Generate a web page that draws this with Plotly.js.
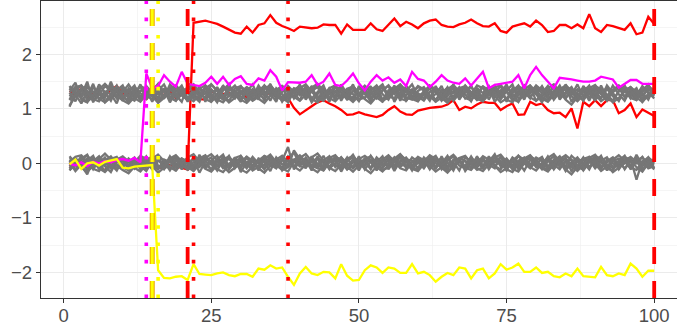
<!DOCTYPE html>
<html>
<head>
<meta charset="utf-8">
<script src="https://cdn.plot.ly/plotly-3.0.1.min.js"></script>
<style>html,body{margin:0;padding:0;background:#fff;}#chart{width:677px;height:328px;}</style>
</head>
<body>
<div id="chart"></div>
<script>
// time index 1..100
const timeIndex = Array.from({length: 100}, (_, i) => i + 1);

// coloured series
const redJump = [
 -0.08,-0.03,0.02,-0.04,0.01,-0.05,-0.13,0.03,0.07,0.04,
 0.02,0.05,0.03,0.00,-0.04,-0.09,-0.06,-0.03,-0.05,-0.08,
 -0.11,2.58,2.60,2.62,2.59,2.56,2.51,2.46,2.40,2.38,
 2.51,2.40,2.54,2.57,2.72,2.58,2.52,2.48,2.43,2.51,
 2.49,2.48,2.49,2.55,2.54,2.54,2.38,2.55,2.45,2.45,
 2.45,2.57,2.46,2.43,2.55,2.66,2.52,2.60,2.55,2.48,
 2.57,2.62,2.64,2.54,2.51,2.50,2.55,2.58,2.64,2.57,
 2.52,2.51,2.57,2.43,2.40,2.51,2.54,2.57,2.51,2.62,
 2.54,2.41,2.43,2.54,2.54,2.48,2.55,2.48,2.74,2.48,
 2.41,2.54,2.52,2.48,2.45,2.57,2.37,2.40,2.69,2.56];
const redDrift = [
 1.33,1.25,1.38,1.22,1.30,1.27,1.24,1.35,1.42,1.28,
 1.30,1.25,1.22,1.18,1.30,1.13,1.26,1.32,1.20,1.28,
 1.31,1.25,1.18,1.17,1.30,1.36,1.27,1.29,1.24,1.30,
 1.21,1.28,1.32,1.26,1.29,1.27,1.18,1.20,1.02,0.90,
 0.98,1.05,1.12,1.16,1.10,1.05,0.98,0.89,0.90,0.94,
 0.90,0.88,0.85,0.89,0.98,1.05,0.95,0.90,0.89,0.97,
 1.00,1.02,1.03,1.04,1.08,1.16,0.98,1.04,1.01,1.08,
 1.13,1.11,1.11,0.98,1.05,1.10,0.89,0.90,1.13,1.07,
 1.10,0.98,0.92,0.93,0.85,1.01,0.64,1.13,1.05,1.16,
 1.05,1.16,1.16,0.92,0.98,1.10,0.85,0.99,0.93,0.87];
const magentaSeries = [
 0.00,-0.04,0.02,-0.05,0.03,0.00,0.04,0.02,0.06,0.08,
 0.05,0.10,0.02,1.65,1.38,1.42,1.62,1.50,1.41,1.68,
 1.46,1.44,1.42,1.48,1.59,1.46,1.59,1.44,1.55,1.60,
 1.46,1.44,1.56,1.52,1.71,1.59,1.34,1.49,1.48,1.48,
 1.50,1.62,1.44,1.50,1.65,1.44,1.42,1.52,1.65,1.47,
 1.34,1.50,1.62,1.52,1.58,1.48,1.54,1.42,1.68,1.55,
 1.52,1.40,1.50,1.62,1.52,1.48,1.46,1.56,1.43,1.55,
 1.68,1.38,1.44,1.46,1.48,1.50,1.62,1.38,1.62,1.77,
 1.62,1.49,1.38,1.57,1.56,1.54,1.52,1.50,1.50,1.52,
 1.59,1.56,1.54,1.39,1.46,1.53,1.53,1.46,1.46,1.46];
const yellowSeries = [
 -0.02,0.07,-0.10,0.00,0.02,-0.04,0.03,0.05,0.08,-0.08,
 -0.09,-0.06,-0.05,-0.04,-0.03,-1.96,-2.10,-2.11,-2.08,-2.07,
 -2.14,-1.85,-2.03,-2.04,-2.05,-2.02,-2.00,-2.05,-2.07,-2.03,
 -2.03,-2.08,-1.93,-1.95,-1.87,-1.93,-1.91,-2.08,-2.23,-2.02,
 -1.90,-2.02,-2.05,-1.99,-2.00,-2.11,-1.85,-2.06,-2.15,-2.14,
 -1.96,-1.87,-1.91,-2.01,-1.91,-1.93,-2.01,-2.01,-1.85,-2.02,
 -1.99,-2.05,-2.17,-2.08,-2.01,-2.05,-1.91,-1.93,-2.11,-1.96,
 -1.93,-2.11,-2.02,-1.85,-1.95,-1.91,-1.84,-1.99,-1.99,-1.91,
 -2.01,-1.99,-2.07,-2.09,-2.02,-2.07,-1.93,-2.07,-2.08,-2.09,
 -1.90,-2.05,-2.07,-2.02,-2.05,-1.84,-1.93,-2.08,-1.97,-1.97];

// grey series, lower band
const greyLow1 = [
 0.05,-0.12,0.09,0.16,-0.06,0.02,-0.15,0.08,0.12,-0.04,
 0.06,-0.10,0.00,0.11,-0.08,0.15,0.03,-0.13,0.05,0.09,
 -0.02,0.08,-0.17,0.04,0.11,-0.06,0.02,0.14,-0.09,0.05,
 -0.04,0.12,0.00,-0.11,0.07,0.03,-0.08,0.09,0.20,-0.02,
 0.06,-0.13,0.10,0.01,-0.06,0.08,-0.15,0.04,0.16,-0.03,
 0.09,-0.08,0.02,0.13,-0.11,0.05,0.00,-0.06,0.11,0.03,
 -0.09,0.07,0.14,-0.04,0.02,-0.13,0.09,0.05,-0.02,0.11,
 -0.08,0.03,0.17,-0.06,0.07,-0.11,0.02,0.09,-0.04,0.05,
 0.12,-0.09,0.03,-0.02,0.11,-0.15,0.05,0.07,-0.06,0.02,
 0.14,-0.08,0.04,0.09,-0.11,0.05,0.00,0.12,-0.04,0.07];
const greyLow2 = [
 -0.09,0.05,-0.04,-0.20,0.07,-0.02,0.11,-0.07,0.02,0.09,
 -0.13,0.04,0.07,-0.05,0.14,-0.04,-0.11,0.05,0.00,-0.07,
 0.09,-0.14,0.04,0.12,-0.02,0.07,-0.09,-0.04,0.11,-0.16,
 0.02,0.05,-0.07,0.14,-0.04,0.09,-0.13,0.00,0.07,-0.05,
 0.11,-0.04,-0.09,0.05,0.13,-0.07,0.04,-0.11,0.02,0.09,
 -0.05,0.14,-0.02,-0.09,0.07,-0.14,0.05,0.11,-0.04,0.00,
 0.07,-0.11,0.04,0.09,-0.05,0.02,-0.13,0.11,0.04,-0.07,
 0.05,-0.02,-0.09,0.13,-0.04,0.07,-0.11,0.04,0.14,-0.05,
 0.00,0.09,-0.07,0.05,-0.14,0.02,0.11,-0.04,0.07,-0.09,
 0.04,-0.13,0.09,-0.02,0.05,-0.07,0.16,-0.04,0.02,-0.11];
const greyLow3 = [
 0.13,0.00,-0.07,0.05,0.14,-0.11,0.04,-0.02,-0.13,0.07,
 0.02,0.11,-0.05,-0.14,0.04,0.09,-0.07,0.13,-0.04,0.00,
 0.05,-0.11,0.16,-0.04,0.02,-0.13,0.07,-0.05,0.09,0.04,
 -0.09,0.07,0.02,-0.04,0.13,-0.07,0.05,0.30,-0.11,0.04,
 -0.02,0.09,-0.05,0.14,-0.09,0.00,0.11,-0.04,0.05,-0.13,
 0.07,0.02,-0.11,0.04,0.09,-0.05,0.13,-0.09,0.02,0.07,
 -0.04,0.11,-0.07,0.00,0.14,-0.05,0.04,-0.11,0.09,0.02,
 -0.09,0.13,-0.04,0.05,-0.07,0.11,0.02,-0.13,0.07,-0.02,
 0.09,-0.05,0.04,0.13,-0.09,0.02,-0.04,0.11,-0.07,0.05,
 -0.11,0.07,0.00,-0.05,0.13,-0.04,0.09,-0.14,0.05,-0.02];
const greyLow4 = [
 -0.05,0.09,0.02,-0.11,0.04,0.13,-0.04,0.05,-0.09,0.00,
 0.07,-0.05,0.11,0.02,-0.11,0.05,-0.02,0.09,-0.07,0.04,
 -0.11,0.02,0.09,-0.07,0.05,0.14,-0.05,0.00,0.04,-0.09,
 0.11,-0.04,0.07,-0.09,0.02,0.05,-0.11,0.13,0.04,-0.05,
 -0.07,0.05,0.00,-0.11,0.09,0.04,-0.05,0.11,-0.09,0.02,
 0.05,-0.09,0.11,0.00,-0.04,0.09,-0.07,0.04,-0.13,0.07,
 0.02,-0.05,0.09,-0.11,0.05,0.13,-0.04,-0.09,0.07,0.00,
 0.11,-0.07,0.04,-0.02,0.09,-0.05,0.14,0.00,-0.09,0.04,
 -0.05,0.07,-0.11,0.04,0.09,-0.04,0.05,-0.13,0.02,0.11,
 -0.07,0.04,0.11,-0.05,0.00,0.09,-0.30,0.05,-0.09,-0.05];
const greyLow5 = [
 0.07,-0.04,0.14,-0.09,0.00,0.09,-0.05,-0.16,0.05,0.11,
 -0.04,0.07,-0.11,0.05,0.13,-0.09,0.02,0.07,-0.14,0.09,
 0.04,-0.07,0.11,-0.02,-0.11,0.07,0.16,-0.07,0.02,-0.04,
 0.13,-0.09,0.05,0.02,-0.14,0.11,-0.02,0.07,-0.07,0.14,
 -0.04,0.02,0.09,-0.13,0.05,-0.02,0.11,0.00,-0.07,0.13,
 -0.11,0.04,0.07,-0.04,0.14,-0.09,0.02,0.09,-0.05,0.11,
 -0.02,0.05,-0.11,0.13,-0.07,0.04,0.09,-0.14,0.00,0.05,
 0.09,-0.11,0.05,0.11,-0.02,-0.09,0.05,0.11,-0.05,0.02,
 -0.11,0.04,0.13,-0.07,0.02,0.07,-0.13,0.09,0.04,-0.07,
 0.11,-0.02,-0.09,0.05,0.14,-0.11,0.04,-0.05,0.09,0.02];
const greyLow6 = [
 -0.13,0.02,0.05,-0.04,0.11,-0.07,0.04,0.13,-0.02,-0.09,
 0.09,0.00,-0.05,0.13,-0.04,-0.11,0.07,0.02,0.11,-0.05,
 -0.07,0.11,0.00,-0.09,0.05,-0.04,0.13,-0.11,0.02,0.09,
 -0.02,-0.11,0.09,0.05,-0.05,0.00,0.11,-0.07,0.24,0.07,
 -0.09,0.13,-0.04,0.05,-0.11,0.09,0.02,-0.05,0.07,-0.02,
 0.04,-0.11,0.09,-0.05,0.00,0.11,-0.04,0.07,0.05,-0.09,
 0.11,0.00,-0.07,0.05,-0.11,0.07,0.02,0.04,-0.09,0.13,
 -0.04,0.09,-0.05,-0.11,0.05,0.02,-0.07,0.09,-0.02,0.11,
 0.04,-0.11,0.07,0.00,-0.05,0.14,0.04,-0.09,0.11,-0.04,
 0.05,0.11,-0.07,0.02,-0.09,0.04,0.07,-0.02,0.11,-0.09];
const greyLow7 = [
 0.02,-0.14,-0.02,0.09,-0.11,0.05,0.09,-0.09,0.04,0.11,
 -0.07,0.04,0.09,-0.11,0.02,0.13,-0.09,-0.04,0.07,-0.11,
 0.11,-0.04,-0.07,0.07,-0.13,0.04,-0.02,0.09,-0.05,0.13,
 -0.05,0.04,-0.13,0.09,-0.02,-0.09,0.07,-0.04,0.05,0.11,
 0.04,-0.07,0.13,-0.09,0.07,-0.04,-0.09,0.05,0.11,-0.07,
 0.02,0.07,-0.13,0.09,-0.07,0.02,0.11,-0.04,-0.09,0.05,
 -0.05,0.13,0.00,-0.07,0.11,-0.09,0.05,-0.05,0.13,-0.04,
 0.07,-0.05,0.11,0.02,-0.13,0.07,-0.04,0.05,0.09,-0.07,
 -0.04,0.13,-0.02,-0.11,0.05,-0.07,0.09,0.02,-0.11,0.09,
 -0.05,0.02,0.07,-0.11,0.04,-0.09,0.05,0.11,-0.07,0.04];
const greyLow8 = [
 0.10,0.04,-0.08,-0.15,-0.05,0.08,0.18,0.06,-0.04,-0.12,
 -0.18,-0.06,0.05,0.12,0.02,-0.10,-0.03,0.09,0.15,0.04,
 -0.07,-0.14,-0.02,0.10,0.17,0.06,-0.05,-0.16,-0.08,0.03,
 0.12,0.05,-0.09,-0.17,-0.04,0.07,0.14,0.03,-0.06,-0.13,
 -0.02,0.11,0.18,0.05,-0.08,-0.14,-0.03,0.09,0.13,0.01,
 -0.10,-0.18,-0.06,0.07,0.15,0.04,-0.09,-0.13,0.02,0.12,
 0.06,-0.05,-0.15,-0.07,0.08,0.16,0.03,-0.08,-0.12,0.01,
 0.13,0.07,-0.04,-0.16,-0.09,0.05,0.14,0.06,-0.07,-0.13,
 0.00,0.10,0.17,0.04,-0.11,-0.20,-0.05,0.08,0.12,-0.02,
 -0.14,-0.06,0.07,0.15,0.05,-0.08,-0.12,0.03,0.11,0.02];
const greyLow9 = [
 -0.12,-0.03,0.08,0.14,0.02,-0.09,-0.16,-0.05,0.07,0.13,
 0.04,-0.08,-0.15,-0.02,0.09,0.16,0.05,-0.07,-0.13,0.00,
 0.11,0.17,0.03,-0.10,-0.15,-0.04,0.08,0.12,0.01,-0.11,
 -0.17,-0.06,0.05,0.14,0.08,-0.03,-0.12,-0.07,0.06,0.15,
 0.03,-0.09,-0.16,-0.04,0.10,0.15,0.02,-0.11,-0.06,0.08,
 0.14,0.05,-0.07,-0.15,-0.03,0.09,0.17,0.04,-0.10,-0.14,
 -0.01,0.12,0.06,-0.08,-0.17,-0.05,0.07,0.13,0.02,-0.09,
 -0.14,-0.02,0.11,0.16,0.03,-0.10,-0.15,0.00,0.12,0.07,
 -0.06,-0.13,-0.03,0.08,0.15,0.06,-0.05,-0.12,0.04,0.13,
 0.09,-0.03,-0.16,-0.08,0.05,0.12,0.03,-0.09,-0.04,0.06];
const greyLow10 = [
 0.03,0.12,0.15,0.02,-0.10,-0.14,0.01,0.11,0.06,-0.07,
 -0.13,0.02,0.14,0.08,-0.05,-0.17,-0.08,0.06,0.12,-0.03,
 -0.12,-0.05,0.09,0.15,0.00,-0.11,-0.16,-0.02,0.10,0.14,
 0.01,-0.13,-0.06,0.08,0.16,0.02,-0.09,-0.15,0.03,0.10,
 0.17,0.04,-0.08,-0.13,0.02,0.12,0.07,-0.06,-0.15,-0.04,
 0.08,0.13,0.00,-0.12,-0.08,0.05,0.16,0.06,-0.07,-0.11,
 0.04,0.15,0.08,-0.04,-0.14,-0.06,0.10,0.14,-0.01,-0.12,
 -0.07,0.06,0.13,0.02,-0.11,-0.16,0.00,0.09,0.15,0.03,
 -0.09,-0.15,-0.02,0.11,0.07,-0.05,-0.14,-0.03,0.10,0.16,
 0.02,-0.10,-0.13,0.04,0.12,0.06,-0.07,-0.15,0.00,0.08];

// grey series, upper band
const greyHigh1 = [
 1.30,1.14,1.38,1.23,1.46,1.17,1.32,1.27,1.10,1.40,
 1.25,1.34,1.15,1.42,1.29,1.21,1.36,1.12,1.31,1.43,
 1.19,1.33,1.25,1.38,1.14,1.29,1.42,1.23,1.34,1.17,
 1.31,1.45,1.21,1.33,1.15,1.38,1.27,1.12,1.36,1.25,
 1.40,1.19,1.31,1.43,1.17,1.33,1.23,1.36,1.27,1.14,
 1.34,1.25,1.42,1.17,1.29,1.38,1.21,1.33,1.45,1.23,
 1.15,1.31,1.36,1.25,1.40,1.19,1.33,1.27,1.14,1.38,
 1.29,1.42,1.21,1.34,1.17,1.31,1.43,1.23,1.36,1.27,
 1.12,1.33,1.25,1.40,1.19,1.34,1.29,1.15,1.38,1.23,
 1.33,1.21,1.43,1.27,1.15,1.36,1.25,1.42,1.31,1.19];
const greyHigh2 = [
 1.17,1.40,1.25,1.50,1.12,1.34,1.21,1.43,1.31,1.15,
 1.38,1.23,1.45,1.17,1.33,1.46,1.19,1.36,1.25,1.13,
 1.43,1.29,1.15,1.40,1.27,1.12,1.34,1.46,1.21,1.33,
 1.13,1.27,1.38,1.23,1.46,1.17,1.31,1.40,1.19,1.34,
 1.25,1.42,1.15,1.29,1.36,1.21,1.45,1.27,1.17,1.38,
 1.31,1.13,1.36,1.45,1.23,1.19,1.38,1.15,1.29,1.42,
 1.36,1.21,1.27,1.42,1.15,1.33,1.23,1.43,1.31,1.17,
 1.25,1.38,1.13,1.29,1.45,1.21,1.34,1.17,1.42,1.29,
 1.40,1.17,1.34,1.25,1.43,1.13,1.31,1.38,1.21,1.33,
 1.19,1.43,1.29,1.15,1.38,1.27,1.17,1.34,1.45,1.25];
const greyHigh3 = [
 1.42,1.27,1.10,1.33,1.19,1.45,1.31,1.15,1.38,1.25,
 1.12,1.31,1.40,1.27,1.17,1.34,1.45,1.23,1.15,1.36,
 1.29,1.19,1.42,1.13,1.36,1.25,1.17,1.33,1.43,1.27,
 1.38,1.15,1.31,1.43,1.25,1.34,1.13,1.29,1.23,1.45,
 1.17,1.33,1.40,1.21,1.27,1.43,1.15,1.34,1.38,1.23,
 1.42,1.29,1.19,1.33,1.43,1.13,1.31,1.25,1.36,1.17,
 1.27,1.38,1.13,1.34,1.23,1.45,1.17,1.33,1.40,1.25,
 1.15,1.31,1.36,1.19,1.42,1.27,1.13,1.38,1.29,1.43,
 1.34,1.23,1.45,1.17,1.31,1.40,1.21,1.33,1.15,1.36,
 1.27,1.15,1.33,1.42,1.21,1.29,1.38,1.13,1.25,1.34];
const greyHigh4 = [
 1.06,1.23,1.34,1.17,1.27,1.38,1.13,1.29,1.43,1.21,
 1.33,1.43,1.19,1.29,1.38,1.15,1.25,1.40,1.27,1.34,
 1.13,1.38,1.27,1.21,1.45,1.33,1.25,1.15,1.31,1.42,
 1.25,1.33,1.17,1.42,1.29,1.13,1.40,1.34,1.21,1.29,
 1.34,1.12,1.27,1.38,1.21,1.31,1.42,1.17,1.33,1.25,
 1.19,1.38,1.31,1.13,1.34,1.27,1.42,1.21,1.17,1.33,
 1.40,1.25,1.17,1.31,1.38,1.15,1.29,1.42,1.23,1.34,
 1.21,1.34,1.27,1.43,1.13,1.38,1.25,1.31,1.19,1.40,
 1.29,1.42,1.17,1.31,1.36,1.25,1.45,1.21,1.34,1.27,
 1.38,1.27,1.15,1.33,1.43,1.19,1.31,1.25,1.36,1.29];
const greyHigh5 = [
 1.34,1.48,1.17,1.12,1.40,1.27,1.21,1.50,1.23,1.33,
 1.21,1.15,1.33,1.38,1.23,1.43,1.31,1.17,1.42,1.27,
 1.34,1.45,1.21,1.29,1.17,1.40,1.23,1.38,1.27,1.13,
 1.40,1.23,1.33,1.15,1.38,1.27,1.43,1.19,1.31,1.36,
 1.27,1.40,1.19,1.34,1.13,1.42,1.29,1.25,1.45,1.17,
 1.21,1.34,1.43,1.27,1.17,1.38,1.25,1.42,1.31,1.15,
 1.33,1.17,1.42,1.21,1.34,1.29,1.40,1.19,1.27,1.43,
 1.38,1.25,1.31,1.17,1.33,1.45,1.19,1.27,1.40,1.15,
 1.23,1.36,1.29,1.43,1.21,1.33,1.15,1.42,1.27,1.38,
 1.31,1.38,1.23,1.17,1.33,1.40,1.27,1.19,1.42,1.33];
const greyHigh6 = [
 1.23,1.34,1.43,1.29,1.15,1.25,1.42,1.33,1.19,1.31,
 1.45,1.29,1.23,1.34,1.13,1.33,1.21,1.45,1.34,1.25,
 1.17,1.29,1.38,1.31,1.23,1.17,1.43,1.27,1.19,1.40,
 1.34,1.21,1.43,1.27,1.33,1.23,1.17,1.42,1.31,1.15,
 1.43,1.31,1.23,1.17,1.38,1.27,1.21,1.33,1.15,1.42,
 1.27,1.17,1.33,1.40,1.25,1.43,1.15,1.38,1.23,1.29,
 1.19,1.42,1.31,1.15,1.29,1.38,1.25,1.31,1.43,1.21,
 1.42,1.17,1.38,1.27,1.34,1.15,1.31,1.43,1.23,1.33,
 1.17,1.29,1.40,1.21,1.45,1.27,1.36,1.25,1.31,1.15,
 1.43,1.21,1.31,1.38,1.23,1.34,1.17,1.40,1.29,1.23];
const greyHigh7 = [
 1.04,1.31,1.21,1.40,1.31,1.36,1.12,1.21,1.34,1.43,
 1.17,1.40,1.29,1.19,1.43,1.27,1.36,1.29,1.21,1.38,
 1.33,1.23,1.13,1.43,1.31,1.34,1.19,1.42,1.29,1.23,
 1.17,1.36,1.27,1.19,1.42,1.31,1.21,1.25,1.38,1.33,
 1.23,1.34,1.45,1.25,1.31,1.17,1.38,1.21,1.42,1.29,
 1.36,1.21,1.27,1.42,1.19,1.33,1.40,1.15,1.34,1.25,
 1.29,1.15,1.38,1.33,1.25,1.42,1.19,1.36,1.17,1.31,
 1.17,1.33,1.43,1.23,1.40,1.29,1.38,1.21,1.33,1.27,
 1.42,1.23,1.19,1.34,1.27,1.38,1.25,1.31,1.43,1.19,
 1.21,1.36,1.27,1.15,1.38,1.25,1.34,1.29,1.17,1.40];
const greyHigh8 = [
 1.38,1.32,1.20,1.13,1.23,1.36,1.46,1.34,1.24,1.16,
 1.10,1.22,1.33,1.40,1.30,1.18,1.25,1.37,1.43,1.32,
 1.21,1.14,1.26,1.38,1.45,1.34,1.23,1.12,1.20,1.31,
 1.40,1.33,1.19,1.11,1.24,1.35,1.42,1.31,1.22,1.15,
 1.26,1.39,1.46,1.33,1.20,1.14,1.25,1.37,1.41,1.29,
 1.18,1.10,1.22,1.35,1.43,1.32,1.19,1.15,1.30,1.40,
 1.34,1.23,1.13,1.21,1.36,1.44,1.31,1.20,1.16,1.29,
 1.41,1.35,1.24,1.12,1.19,1.33,1.42,1.34,1.21,1.15,
 1.28,1.38,1.45,1.32,1.17,1.08,1.23,1.36,1.40,1.26,
 1.14,1.22,1.35,1.43,1.33,1.20,1.16,1.31,1.39,1.30];
const greyHigh9 = [
 1.16,1.25,1.36,1.42,1.30,1.19,1.12,1.23,1.35,1.41,
 1.32,1.20,1.13,1.26,1.37,1.44,1.33,1.21,1.15,1.28,
 1.39,1.45,1.31,1.18,1.13,1.24,1.36,1.40,1.29,1.17,
 1.11,1.22,1.33,1.42,1.36,1.25,1.16,1.21,1.34,1.43,
 1.31,1.19,1.12,1.24,1.38,1.43,1.30,1.17,1.22,1.36,
 1.42,1.33,1.21,1.13,1.25,1.37,1.45,1.32,1.18,1.14,
 1.27,1.40,1.34,1.20,1.11,1.23,1.35,1.41,1.30,1.19,
 1.14,1.26,1.39,1.44,1.31,1.18,1.13,1.28,1.40,1.35,
 1.22,1.15,1.25,1.36,1.43,1.34,1.23,1.16,1.32,1.41,
 1.37,1.25,1.12,1.20,1.33,1.40,1.31,1.19,1.24,1.34];
const greyHigh10 = [
 1.31,1.40,1.43,1.30,1.18,1.14,1.29,1.39,1.34,1.21,
 1.15,1.30,1.42,1.36,1.23,1.11,1.20,1.34,1.40,1.25,
 1.16,1.23,1.37,1.43,1.28,1.17,1.12,1.26,1.38,1.42,
 1.29,1.15,1.22,1.36,1.44,1.30,1.19,1.13,1.31,1.38,
 1.45,1.32,1.20,1.15,1.30,1.40,1.35,1.22,1.13,1.24,
 1.36,1.41,1.28,1.16,1.20,1.33,1.44,1.34,1.21,1.17,
 1.32,1.43,1.36,1.24,1.14,1.22,1.38,1.42,1.27,1.16,
 1.21,1.34,1.41,1.30,1.17,1.12,1.28,1.37,1.43,1.31,
 1.19,1.13,1.26,1.39,1.35,1.23,1.14,1.25,1.38,1.44,
 1.30,1.18,1.15,1.32,1.40,1.34,1.21,1.13,1.28,1.36];

const greyLow = [greyLow1, greyLow2, greyLow3, greyLow4, greyLow5, greyLow6, greyLow7, greyLow8, greyLow9, greyLow10];
const greyHigh = [greyHigh1, greyHigh2, greyHigh3, greyHigh4, greyHigh5, greyHigh6, greyHigh7, greyHigh8, greyHigh9, greyHigh10];

// vertical marker positions
const markerX = [14, 15, 15, 16, 21, 22, 38, 100];
const markerColor = ['#FF00FF', '#E8A000', '#FFFF00', '#FFFF00', '#FF0000', '#FF0000', '#FF0000', '#FF0000'];
const markerKind = ['dot', 'dashwide', 'dash', 'dot', 'dash', 'dot', 'dot', 'dash'];

const GREY = '#767676';
const traces = [];
function addLine(y, color) {
  traces.push({x: timeIndex, y: y, type: 'scatter', mode: 'lines',
    line: {color: color, width: 2.3}, hoverinfo: 'skip', showlegend: false});
}
addLine(redDrift, '#FF0000');
addLine(redJump, '#FF0000');
greyHigh.forEach(s => addLine(s, GREY));
greyLow.forEach(s => addLine(s, GREY));
addLine(magentaSeries, '#FF00FF');
addLine(yellowSeries, '#FFFF00');

const shapes = markerX.map((xv, i) => {
  const kind = markerKind[i];
  let dash, width;
  if (kind === 'dot') { dash = '3.6px,13.7px'; width = 3.6; }
  else if (kind === 'dashwide') { dash = '17px,17px'; width = 5; }
  else { dash = '17px,17px'; width = 3.8; }
  if (kind === 'dash' && markerColor[i] === '#FFFF00') width = 3;
  return {type: 'line', xref: 'x', yref: 'paper', x0: xv, x1: xv, y0: 0, y1: 1,
    line: {color: markerColor[i], width: width, dash: dash}, layer: 'above'};
});

const tickFont = {family: 'Liberation Sans, Arial, sans-serif', size: 18.5, color: '#4D4D4D'};
const layout = {
  width: 677, height: 328,
  margin: {l: 41, r: 0, t: 1, b: 30, pad: 0},
  paper_bgcolor: '#FFFFFF', plot_bgcolor: '#FFFFFF',
  showlegend: false,
  xaxis: {
    range: [-3.83, 103.86], tickvals: [0, 25, 50, 75, 100], ticktext: ['0', '25', '50', '75', '100'],
    showgrid: true, gridcolor: '#EBEBEB', gridwidth: 1.1,
    minor: {tickvals: [12.5, 37.5, 62.5, 87.5], showgrid: true, gridcolor: '#EFEFEF', gridwidth: 0.6, ticks: ''},
    zeroline: false, showline: true, linecolor: '#333333', linewidth: 1.2, mirror: true,
    ticks: 'outside', ticklen: 4, tickwidth: 1.1, tickcolor: '#333333',
    ticklabelstandoff: -3,
    tickfont: tickFont, fixedrange: true
  },
  yaxis: {
    range: [-2.47, 2.98], tickvals: [-2, -1, 0, 1, 2], ticktext: ['\u22122', '\u22121', '0', '1', '2'],
    showgrid: true, gridcolor: '#EBEBEB', gridwidth: 1.1,
    minor: {tickvals: [-1.5, -0.5, 0.5, 1.5, 2.5], showgrid: true, gridcolor: '#EFEFEF', gridwidth: 0.6, ticks: ''},
    zeroline: false, showline: true, linecolor: '#333333', linewidth: 1.2,
    ticks: 'outside', ticklen: 4, tickwidth: 1.1, tickcolor: '#333333',
    tickfont: tickFont, fixedrange: true
  },
  shapes: shapes
};
Plotly.newPlot('chart', traces, layout, {staticPlot: true, displayModeBar: false});
</script>
</body>
</html>
